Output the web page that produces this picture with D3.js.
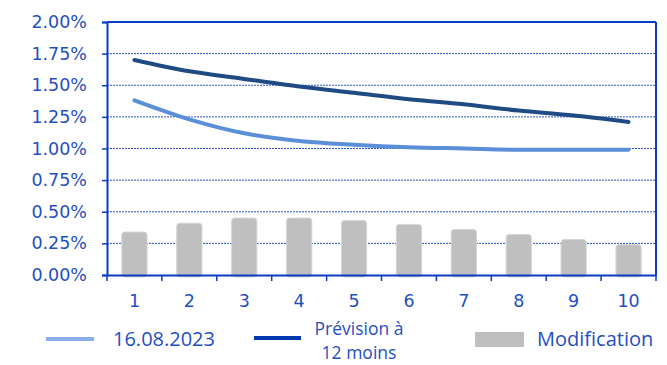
<!DOCTYPE html>
<html>
<head>
<meta charset="utf-8">
<script src="https://cdn.jsdelivr.net/npm/d3@7"></script>
<style>
  body { margin: 0; background: #fff; }
  text { fill: #1f4fc0; }
  .tick text { font-family: 'DejaVu Sans', sans-serif; }
  .legend text { font-family: 'Open Sans', 'Noto Sans', sans-serif; }
</style>
</head>
<body>
<div id="chart"></div>
<script>
// Chart data
const categories = ['1', '2', '3', '4', '5', '6', '7', '8', '9', '10']
const current = [1.38, 1.23, 1.12, 1.06, 1.03, 1.01, 1.00, 0.99, 0.99, 0.99] // 16.08.2023
const forecast = [1.70, 1.61, 1.55, 1.49, 1.44, 1.39, 1.35, 1.30, 1.26, 1.21] // Prévision à 12 moins
const change = [0.34, 0.41, 0.45, 0.45, 0.43, 0.40, 0.36, 0.32, 0.28, 0.24] // Modification
const yTicks = [0, 0.25, 0.5, 0.75, 1, 1.25, 1.5, 1.75, 2]

const width = 667
const height = 365
const margin = { top: 22, right: 11, bottom: 90, left: 107 }
const innerW = width - margin.left - margin.right
const innerH = height - margin.top - margin.bottom
const axisColor = '#0a3cc0'

const svg = d3.select('#chart').append('svg')
  .attr('width', width)
  .attr('height', height)

const g = svg.append('g')
  .attr('transform', `translate(${margin.left}, ${margin.top})`)

const xScale = d3.scaleBand().domain(categories).range([0, innerW])
const yScale = d3.scaleLinear().domain([0, 2]).range([innerH, 0])

// Dotted gridlines
g.append('g')
  .selectAll('line')
  .data(yTicks.filter(d => d > 0 && d < 2))
  .join('line')
  .attr('x1', 0)
  .attr('x2', innerW)
  .attr('y1', d => yScale(d))
  .attr('y2', d => yScale(d))
  .attr('stroke', '#2a55c4')
  .attr('stroke-width', 1)
  .attr('stroke-dasharray', '2,1')

// Bars
const barW = xScale.bandwidth() * 0.46
g.append('g')
  .selectAll('rect')
  .data(change)
  .join('rect')
  .attr('x', (d, i) => xScale(categories[i]) + (xScale.bandwidth() - barW) / 2)
  .attr('y', d => yScale(d))
  .attr('width', barW)
  .attr('height', d => innerH - yScale(d) + 2)
  .attr('rx', 3)
  .attr('fill', '#bfbfbf')
  .attr('stroke', '#d6d6d6')
  .attr('stroke-width', 1)

// Lines
const line = d3.line()
  .x((d, i) => xScale(categories[i]) + xScale.bandwidth() / 2)
  .y(d => yScale(d))
  .curve(d3.curveMonotoneX)

g.append('path')
  .attr('d', line(current))
  .attr('fill', 'none')
  .attr('stroke', '#5b8fd8')
  .attr('stroke-width', 4)
  .attr('stroke-linecap', 'round')

g.append('path')
  .attr('d', line(forecast))
  .attr('fill', 'none')
  .attr('stroke', '#1f4a84')
  .attr('stroke-width', 4)
  .attr('stroke-linecap', 'round')

// Frame (top and right)
g.append('line')
  .attr('x1', 0).attr('x2', innerW).attr('y1', 0).attr('y2', 0)
  .attr('stroke', axisColor).attr('stroke-width', 2)
g.append('line')
  .attr('x1', innerW).attr('x2', innerW).attr('y1', 0).attr('y2', innerH)
  .attr('stroke', axisColor).attr('stroke-width', 2)

// Axis y
const yAxis = g.append('g')
  .call(d3.axisLeft(yScale).tickValues(yTicks).tickSize(5).tickPadding(15)
    .tickFormat(d => d.toFixed(2) + '%'))
yAxis.select('.domain').attr('stroke', axisColor).attr('stroke-width', 2)
yAxis.selectAll('.tick line').attr('stroke', axisColor).attr('stroke-width', 1.5)
yAxis.selectAll('text').style('font-size', '17.5px').attr('fill', '#1f4fc0')

// Axis x
const xAxis = g.append('g')
  .attr('transform', `translate(0, ${innerH})`)
  .call(d3.axisBottom(xScale).tickSize(0).tickPadding(20))
xAxis.select('.domain').attr('stroke', axisColor).attr('stroke-width', 2)
xAxis.selectAll('text').style('font-size', '17.5px').attr('fill', '#1f4fc0')
// Tick marks between categories
g.append('g')
  .selectAll('line')
  .data(categories.concat(['end']))
  .join('line')
  .attr('x1', (d, i) => i * xScale.bandwidth())
  .attr('x2', (d, i) => i * xScale.bandwidth())
  .attr('y1', innerH)
  .attr('y2', innerH + 6)
  .attr('stroke', axisColor)
  .attr('stroke-width', 1.5)

// Legend
const legend = svg.append('g').attr('class', 'legend')
legend.append('line')
  .attr('x1', 46).attr('x2', 94).attr('y1', 339).attr('y2', 339)
  .attr('stroke', '#8aaef0').attr('stroke-width', 4)
legend.append('text')
  .attr('x', 113).attr('y', 346)
  .style('font-size', '20px')
  .text('16.08.2023')

legend.append('line')
  .attr('x1', 254).attr('x2', 301).attr('y1', 338).attr('y2', 338)
  .attr('stroke', '#0038b0').attr('stroke-width', 4)
legend.append('text')
  .attr('x', 359).attr('y', 335)
  .attr('text-anchor', 'middle')
  .style('font-size', '17.5px')
  .text('Prévision à')
legend.append('text')
  .attr('x', 359).attr('y', 359)
  .attr('text-anchor', 'middle')
  .style('font-size', '17.5px')
  .text('12 moins')

legend.append('rect')
  .attr('x', 475).attr('y', 332).attr('width', 49).attr('height', 15)
  .attr('fill', '#bfbfbf')
legend.append('text')
  .attr('x', 537).attr('y', 346)
  .style('font-size', '20px')
  .text('Modification')
</script>
</body>
</html>
